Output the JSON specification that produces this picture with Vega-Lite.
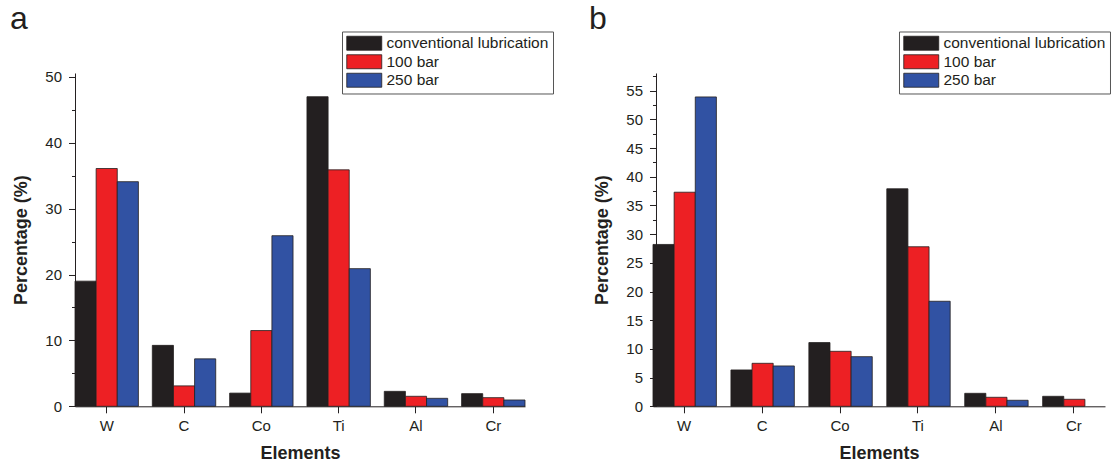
{
  "$schema": "https://vega.github.io/schema/vega-lite/v6.json",
  "padding": {"left": 10, "top": 3, "right": 0, "bottom": 0},
  "datasets": {
    "a": [
      {"element": "W", "condition": "conventional lubrication", "percentage": 19.0},
      {"element": "W", "condition": "100 bar", "percentage": 36.1},
      {"element": "W", "condition": "250 bar", "percentage": 34.1},
      {"element": "C", "condition": "conventional lubrication", "percentage": 9.25},
      {"element": "C", "condition": "100 bar", "percentage": 3.1},
      {"element": "C", "condition": "250 bar", "percentage": 7.2},
      {"element": "Co", "condition": "conventional lubrication", "percentage": 2.0},
      {"element": "Co", "condition": "100 bar", "percentage": 11.5},
      {"element": "Co", "condition": "250 bar", "percentage": 25.9},
      {"element": "Ti", "condition": "conventional lubrication", "percentage": 47.0},
      {"element": "Ti", "condition": "100 bar", "percentage": 35.9},
      {"element": "Ti", "condition": "250 bar", "percentage": 20.9},
      {"element": "Al", "condition": "conventional lubrication", "percentage": 2.27},
      {"element": "Al", "condition": "100 bar", "percentage": 1.52},
      {"element": "Al", "condition": "250 bar", "percentage": 1.21},
      {"element": "Cr", "condition": "conventional lubrication", "percentage": 1.92},
      {"element": "Cr", "condition": "100 bar", "percentage": 1.31},
      {"element": "Cr", "condition": "250 bar", "percentage": 0.96}
    ],
    "b": [
      {"element": "W", "condition": "conventional lubrication", "percentage": 28.2},
      {"element": "W", "condition": "100 bar", "percentage": 37.3},
      {"element": "W", "condition": "250 bar", "percentage": 53.9},
      {"element": "C", "condition": "conventional lubrication", "percentage": 6.33},
      {"element": "C", "condition": "100 bar", "percentage": 7.49},
      {"element": "C", "condition": "250 bar", "percentage": 7.03},
      {"element": "Co", "condition": "conventional lubrication", "percentage": 11.1},
      {"element": "Co", "condition": "100 bar", "percentage": 9.58},
      {"element": "Co", "condition": "250 bar", "percentage": 8.65},
      {"element": "Ti", "condition": "conventional lubrication", "percentage": 37.9},
      {"element": "Ti", "condition": "100 bar", "percentage": 27.8},
      {"element": "Ti", "condition": "250 bar", "percentage": 18.3},
      {"element": "Al", "condition": "conventional lubrication", "percentage": 2.26},
      {"element": "Al", "condition": "100 bar", "percentage": 1.57},
      {"element": "Al", "condition": "250 bar", "percentage": 1.05},
      {"element": "Cr", "condition": "conventional lubrication", "percentage": 1.74},
      {"element": "Cr", "condition": "100 bar", "percentage": 1.22}
    ]
  },
  "spacing": 128,
  "bounds": "flush",
  "resolve": {"scale": {"color": "independent"}, "legend": {"color": "independent"}},
  "hconcat": [
    {
      "width": 450,
      "height": 333.3,
      "title": {"text": "a", "anchor": "start", "frame": "group", "dx": -65, "offset": -5.5},
      "data": {"name": "a"},
      "mark": {"type": "bar", "stroke": "#231f20", "strokeWidth": 0.8},
      "encoding": {
        "x": {
          "field": "element",
          "type": "nominal",
          "sort": ["W", "C", "Co", "Ti", "Al", "Cr"],
          "scale": {"paddingInner": 0.18, "paddingOuter": 0},
          "axis": {"title": "Elements"}
        },
        "xOffset": {
          "field": "condition",
          "type": "nominal",
          "sort": ["conventional lubrication", "100 bar", "250 bar"],
          "scale": {"paddingInner": 0, "paddingOuter": 0}
        },
        "y": {
          "field": "percentage",
          "type": "quantitative",
          "scale": {"domain": [0, 50.6], "nice": false},
          "axis": {
            "title": "Percentage (%)",
            "values": [0, 5, 10, 15, 20, 25, 30, 35, 40, 45, 50],
            "labelExpr": "datum.value % 10 === 0 ? datum.label : ''",
            "tickSize": {"condition": {"test": "datum.value % 10 === 0", "value": 6.5}, "value": 3.5}
          }
        },
        "color": {
          "field": "condition",
          "type": "nominal",
          "sort": ["conventional lubrication", "100 bar", "250 bar"],
          "scale": {
            "domain": ["conventional lubrication", "100 bar", "250 bar"],
            "range": ["#231f20", "#ed2024", "#3152a3"]
          },
          "legend": {"legendX": 267, "legendY": -41.5}
        }
      }
    },
    {
      "width": 452,
      "height": 333.3,
      "title": {"text": "b", "anchor": "start", "frame": "group", "dx": -64, "offset": -5.5},
      "data": {"name": "b"},
      "mark": {"type": "bar", "stroke": "#231f20", "strokeWidth": 0.8},
      "encoding": {
        "x": {
          "field": "element",
          "type": "nominal",
          "sort": ["W", "C", "Co", "Ti", "Al", "Cr"],
          "scale": {"paddingInner": 0.2, "paddingOuter": 0},
          "axis": {"title": "Elements"}
        },
        "xOffset": {
          "field": "condition",
          "type": "nominal",
          "sort": ["conventional lubrication", "100 bar", "250 bar"],
          "scale": {"paddingInner": 0, "paddingOuter": 0}
        },
        "y": {
          "field": "percentage",
          "type": "quantitative",
          "scale": {"domain": [0, 58.07], "nice": false},
          "axis": {
            "title": "Percentage (%)",
            "offset": -3,
            "values": [0, 2.5, 5, 7.5, 10, 12.5, 15, 17.5, 20, 22.5, 25, 27.5, 30, 32.5, 35, 37.5, 40, 42.5, 45, 47.5, 50, 52.5, 55, 57.5],
            "labelExpr": "datum.value % 5 === 0 ? datum.label : ''",
            "tickSize": {"condition": {"test": "datum.value % 5 === 0", "value": 6.5}, "value": 3.5}
          }
        },
        "color": {
          "field": "condition",
          "type": "nominal",
          "sort": ["conventional lubrication", "100 bar", "250 bar"],
          "scale": {
            "domain": ["conventional lubrication", "100 bar", "250 bar"],
            "range": ["#231f20", "#ed2024", "#3152a3"]
          },
          "legend": {"legendX": 246, "legendY": -41.5}
        }
      }
    }
  ],
  "config": {
    "font": "Liberation Sans",
    "background": "white",
    "view": {"stroke": null},
    "title": {
      "fontSize": 32,
      "fontWeight": "normal",
      "color": "#231f20",
      "baseline": "alphabetic"
    },
    "axis": {
      "grid": false,
      "zindex": 1,
      "domainColor": "#231f20",
      "domainWidth": 1,
      "tickColor": "#231f20",
      "tickWidth": 1,
      "labelColor": "#231f20",
      "labelFontSize": 15,
      "titleColor": "#231f20",
      "titleFontSize": 18,
      "titleFontWeight": "bold"
    },
    "axisX": {
      "labelAngle": 0,
      "tickSize": 6.5,
      "labelPadding": 6,
      "titlePadding": 11
    },
    "axisY": {
      "labelPadding": 7,
      "titlePadding": 14
    },
    "legend": {
      "orient": "none",
      "title": null,
      "symbolType": "M-1,-1H4V1H-1Z",
      "symbolSize": 196,
      "symbolStrokeColor": "#231f20",
      "symbolStrokeWidth": 0.8,
      "symbolOpacity": 1,
      "labelFontSize": 15.5,
      "labelColor": "#231f20",
      "labelOffset": 25,
      "labelLimit": 300,
      "rowPadding": 0.5,
      "padding": 4,
      "strokeColor": "#555555",
      "fillColor": "white"
    }
  }
}
